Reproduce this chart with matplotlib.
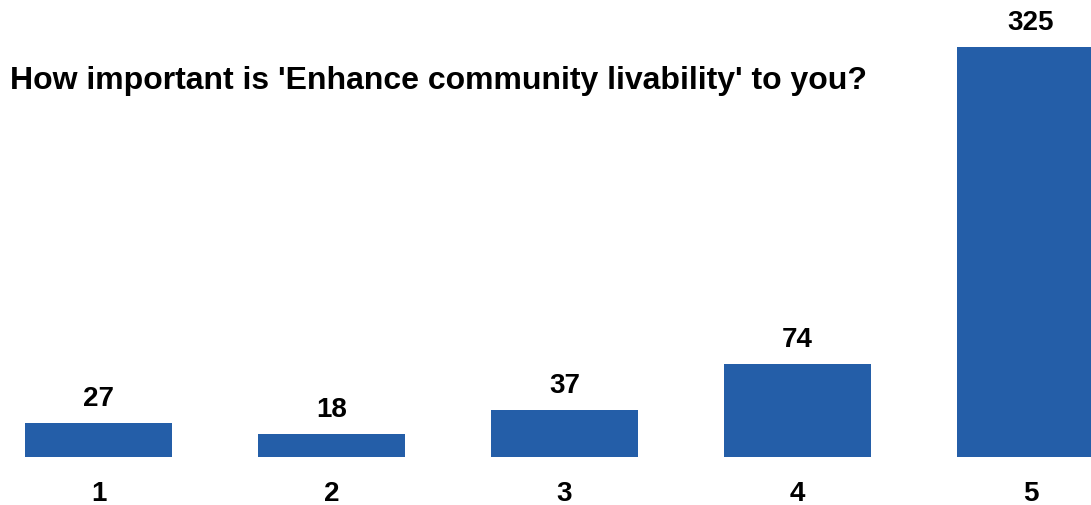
import matplotlib.pyplot as plt

plt.rcParams['font.family'] = ['Liberation Sans', 'DejaVu Sans']

ratings = ['1', '2', '3', '4', '5']
counts = [27, 18, 37, 74, 325]
title = "How important is 'Enhance community livability' to you?"
bar_color = '#245EA8'

fig = plt.figure(figsize=(10.91, 5.05), dpi=100)
ax = fig.add_axes([0, 48 / 505, 1, 457 / 505])

pos = list(range(len(ratings)))
bars = ax.bar(pos, counts, width=0.63, color=bar_color)
for b, v in zip(bars, counts):
    ax.annotate(str(v), (b.get_x() + b.get_width() / 2, v), xytext=(0, 8),
                textcoords='offset points', ha='center', va='bottom',
                fontsize=20, fontweight='bold')

ax.set_xlim(-98.5 / 233, (1091 - 98.5) / 233)
ax.set_ylim(0, 457 / (410 / 325))
ax.set_xticks(pos, ratings, fontsize=20, fontweight='bold')
ax.tick_params(axis='x', length=0, pad=17)
ax.set_yticks([])
for s in ax.spines.values():
    s.set_visible(False)

fig.text(10 / 1091, 1 - 81 / 505, title, fontsize=23, fontweight='bold',
         ha='left', va='center')

fig.savefig('out.png', dpi=100)
plt.close(fig)
